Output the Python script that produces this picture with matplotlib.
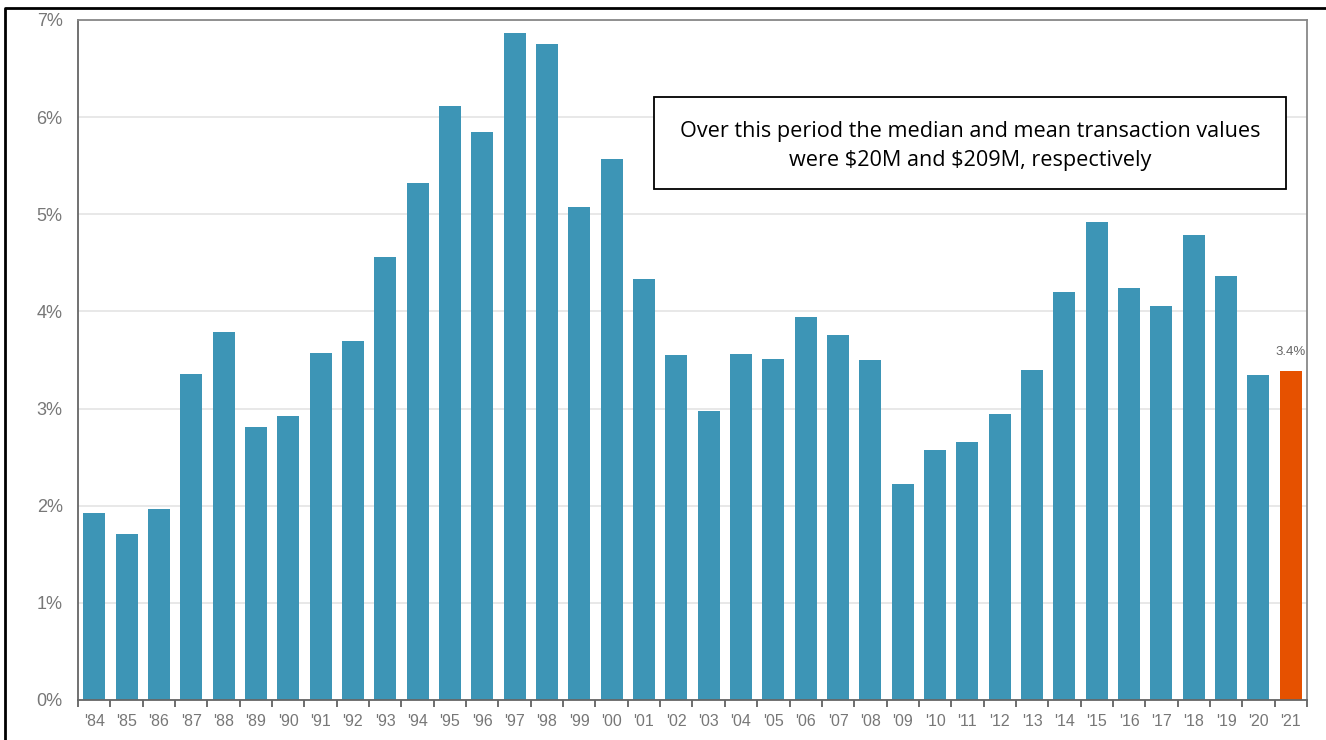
import matplotlib.pyplot as plt
from matplotlib.patches import Rectangle
from matplotlib.lines import Line2D
import numpy as np

plt.rcParams.update({
    'font.family': ['Liberation Sans', 'DejaVu Sans'],
    'figure.facecolor': 'white',
    'axes.facecolor': 'white',
})

years = ["'84", "'85", "'86", "'87", "'88", "'89", "'90", "'91", "'92", "'93",
         "'94", "'95", "'96", "'97", "'98", "'99", "'00", "'01", "'02", "'03",
         "'04", "'05", "'06", "'07", "'08", "'09", "'10", "'11", "'12", "'13",
         "'14", "'15", "'16", "'17", "'18", "'19", "'20", "'21"]
values = [1.93, 1.71, 1.97, 3.36, 3.79, 2.81, 2.92, 3.57, 3.70, 4.56,
          5.32, 6.11, 5.85, 6.87, 6.75, 5.07, 5.57, 4.33, 3.55, 2.97,
          3.56, 3.51, 3.94, 3.76, 3.50, 2.22, 2.57, 2.66, 2.94, 3.40,
          4.20, 4.92, 4.24, 4.06, 4.79, 4.36, 3.35, 3.39]
yticks = [0, 1, 2, 3, 4, 5, 6, 7]
last_label = '3.4%'
note = ('Over this period the median and mean transaction values\n'
        'were \\$20M and \\$209M, respectively')

blue = '#3d95b6'
orange = '#e65100'
colors = [blue] * (len(values) - 1) + [orange]

fig = plt.figure(figsize=(13.26, 7.4), dpi=100)
ax = fig.add_axes([78 / 1326, 1 - 700 / 740, (1307 - 78) / 1326, (700 - 20) / 740])

x = np.arange(len(values))
ax.bar(x, values, width=0.68, color=colors, zorder=2)

ax.set_xlim(-0.5, len(values) - 0.5)
ax.set_ylim(0, 7)
ax.set_yticks(yticks)
ax.set_yticklabels([f'{t}%' for t in yticks])
ax.set_xticks(x)
ax.set_xticklabels(years)
ax.set_xticks(np.arange(len(values) + 1) - 0.5, minor=True)
ax.tick_params(axis='x', which='major', length=0, pad=10, labelsize=11.5, labelcolor='#777777')
ax.tick_params(axis='x', which='minor', length=5, width=1.2, color='#555555')
ax.tick_params(axis='y', length=0, pad=11, labelsize=13, labelcolor='#777777')

ax.grid(axis='y', color='#e4e4e4', linewidth=1.2, zorder=0)
ax.set_axisbelow(True)
for name, spine in ax.spines.items():
    spine.set_color('#666666' if name in ('left', 'bottom') else '#888888')
    spine.set_linewidth(1.3)

ax.annotate(last_label, (x[-1], values[-1]), xytext=(0, 9), textcoords='offset points',
            ha='center', va='bottom', fontsize=9.5, color='#666666')

# note box
fig.patches.append(Rectangle((654 / 1326, 1 - 189 / 740), 632 / 1326, 92 / 740,
                             transform=fig.transFigure, facecolor='white',
                             edgecolor='black', linewidth=1.3, zorder=5))
fig.text(970 / 1326, 1 - 146 / 740, note, ha='center', va='center',
         fontsize=15.6, family=['Open Sans', 'DejaVu Sans'], linespacing=1.5, zorder=6)

# outer frame (top and left edges)
fig.lines.append(Line2D([5 / 1326, 5 / 1326, 1], [0, 1 - 8 / 740, 1 - 8 / 740],
                        transform=fig.transFigure, color='black', linewidth=2))

fig.savefig('out.png', dpi=100)
